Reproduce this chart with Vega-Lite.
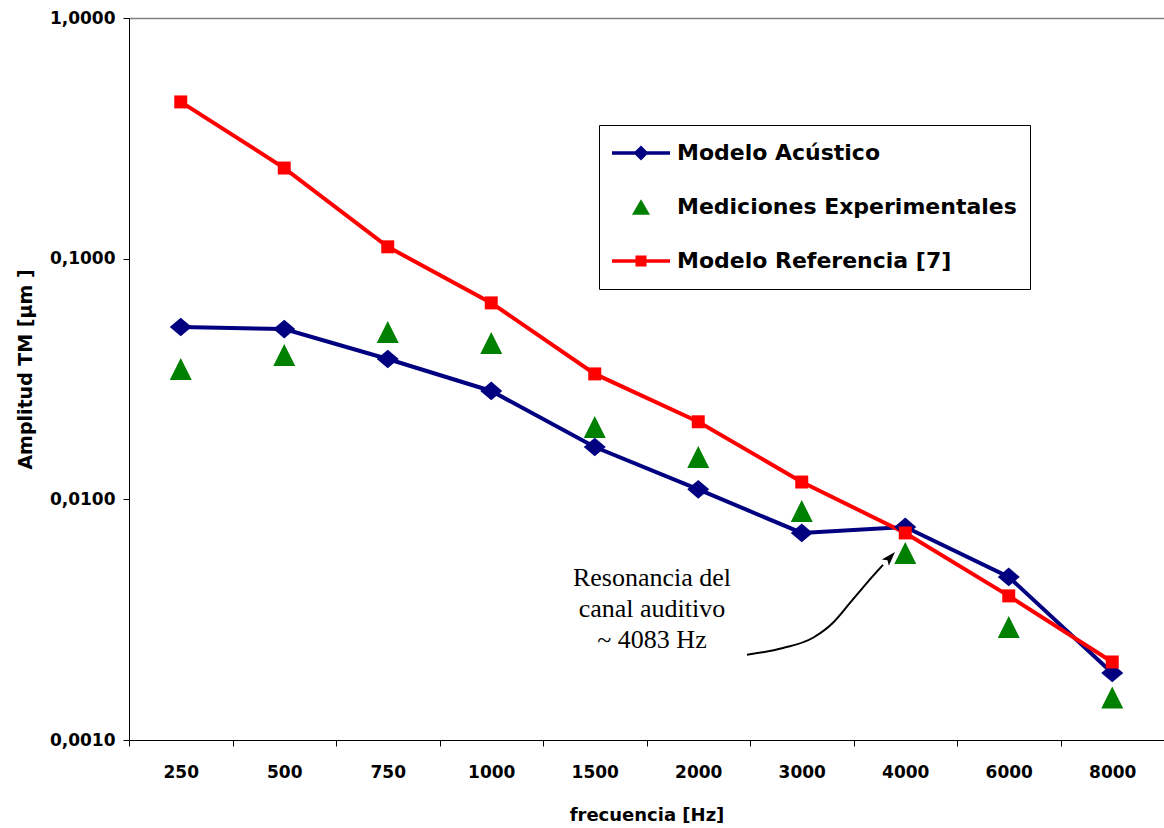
{
  "$schema": "https://vega.github.io/schema/vega-lite/v6.json",
  "width": 1035,
  "height": 722,
  "autosize": {"type": "none"},
  "padding": {"left": 129, "top": 18, "right": 0, "bottom": 88},
  "background": "white",
  "config": {"view": {"stroke": null}, "font": "DejaVu Sans"},
  "datasets": {
    "series": [
      {"frecuencia": "250", "serie": "Modelo Acústico", "amplitud": 0.052},
      {"frecuencia": "500", "serie": "Modelo Acústico", "amplitud": 0.051},
      {"frecuencia": "750", "serie": "Modelo Acústico", "amplitud": 0.0383},
      {"frecuencia": "1000", "serie": "Modelo Acústico", "amplitud": 0.0282},
      {"frecuencia": "1500", "serie": "Modelo Acústico", "amplitud": 0.0165},
      {"frecuencia": "2000", "serie": "Modelo Acústico", "amplitud": 0.011},
      {"frecuencia": "3000", "serie": "Modelo Acústico", "amplitud": 0.00725},
      {"frecuencia": "4000", "serie": "Modelo Acústico", "amplitud": 0.00768},
      {"frecuencia": "6000", "serie": "Modelo Acústico", "amplitud": 0.00476},
      {"frecuencia": "8000", "serie": "Modelo Acústico", "amplitud": 0.0019},
      {"frecuencia": "250", "serie": "Modelo Referencia [7]", "amplitud": 0.448},
      {"frecuencia": "500", "serie": "Modelo Referencia [7]", "amplitud": 0.238},
      {"frecuencia": "750", "serie": "Modelo Referencia [7]", "amplitud": 0.112},
      {"frecuencia": "1000", "serie": "Modelo Referencia [7]", "amplitud": 0.0655},
      {"frecuencia": "1500", "serie": "Modelo Referencia [7]", "amplitud": 0.0332},
      {"frecuencia": "2000", "serie": "Modelo Referencia [7]", "amplitud": 0.021},
      {"frecuencia": "3000", "serie": "Modelo Referencia [7]", "amplitud": 0.0118},
      {"frecuencia": "4000", "serie": "Modelo Referencia [7]", "amplitud": 0.00725},
      {"frecuencia": "6000", "serie": "Modelo Referencia [7]", "amplitud": 0.00397},
      {"frecuencia": "8000", "serie": "Modelo Referencia [7]", "amplitud": 0.00211},
      {"frecuencia": "250", "serie": "Mediciones Experimentales", "amplitud": 0.0348},
      {"frecuencia": "500", "serie": "Mediciones Experimentales", "amplitud": 0.0398},
      {"frecuencia": "750", "serie": "Mediciones Experimentales", "amplitud": 0.0496},
      {"frecuencia": "1000", "serie": "Mediciones Experimentales", "amplitud": 0.0446},
      {"frecuencia": "1500", "serie": "Mediciones Experimentales", "amplitud": 0.02},
      {"frecuencia": "2000", "serie": "Mediciones Experimentales", "amplitud": 0.015},
      {"frecuencia": "3000", "serie": "Mediciones Experimentales", "amplitud": 0.00895},
      {"frecuencia": "4000", "serie": "Mediciones Experimentales", "amplitud": 0.00599},
      {"frecuencia": "6000", "serie": "Mediciones Experimentales", "amplitud": 0.00295},
      {"frecuencia": "8000", "serie": "Mediciones Experimentales", "amplitud": 0.0015}
    ],
    "flecha": [
      {"xi": 5.471, "amplitud": 0.00226},
      {"xi": 5.819, "amplitud": 0.00241},
      {"xi": 6.109, "amplitud": 0.00266},
      {"xi": 6.302, "amplitud": 0.00307},
      {"xi": 6.466, "amplitud": 0.00371},
      {"xi": 6.63, "amplitud": 0.0045},
      {"xi": 6.785, "amplitud": 0.00534}
    ],
    "punta": [
      {"xi": 6.849, "amplitud": 0.00571}
    ],
    "nota": [
      {"xi": 4.553, "amplitud": 0.004714, "texto": "Resonancia del\ncanal auditivo\n~ 4083 Hz"}
    ]
  },
  "resolve": {"scale": {"x": "independent"}},
  "layer": [
    {
      "data": {"name": "series"},
      "transform": [{"filter": "datum.serie !== 'Mediciones Experimentales'"}],
      "mark": {"type": "line", "strokeWidth": 4},
      "encoding": {
        "x": {
          "field": "frecuencia", "type": "ordinal",
          "scale": {"type": "band", "paddingInner": 0, "paddingOuter": 0,
                    "domain": ["250", "500", "750", "1000", "1500", "2000", "3000", "4000", "6000", "8000"]},
          "axis": {
            "title": "frecuencia [Hz]", "tickBand": "extent", "labelAngle": 0,
            "tickSize": 6, "labelPadding": 18, "titlePadding": 26,
            "labelFont": "DejaVu Sans", "labelFontSize": 17, "labelFontWeight": "bold", "labelColor": "black",
            "titleFont": "DejaVu Sans", "titleFontSize": 18, "titleFontWeight": "bold", "titleColor": "black",
            "domainColor": "black", "tickColor": "black", "grid": false
          }
        },
        "y": {
          "field": "amplitud", "type": "quantitative",
          "scale": {"type": "log", "domain": [0.001, 1]},
          "axis": {
            "values": [0.001, 0.01, 0.1, 1],
            "labelExpr": "replace(format(datum.value, '.4f'), '.', ',')",
            "title": "Amplitud TM [µm ]",
            "labelFont": "DejaVu Sans", "labelFontSize": 17, "labelFontWeight": "bold", "labelColor": "black",
            "titleFont": "DejaVu Sans", "titleFontSize": 19, "titleFontWeight": "bold", "titleColor": "black",
            "tickSize": 6, "labelPadding": 8, "titlePadding": 14, "titleY": 351,
            "domainColor": "black", "tickColor": "black",
            "grid": true, "gridColor": "#808080", "gridWidth": 1.5,
            "gridOpacity": {"condition": {"test": "datum.value === 1", "value": 1}, "value": 0}
          }
        },
        "color": {
          "field": "serie", "type": "nominal",
          "scale": {"domain": ["Modelo Acústico", "Mediciones Experimentales", "Modelo Referencia [7]"],
                    "range": ["#000080", "#008000", "#FF0000"]},
          "legend": {
            "orient": "none", "legendX": 470, "legendY": 107, "title": null,
            "padding": 13, "strokeColor": "black", "fillColor": "white",
            "symbolSize": 3364, "clipHeight": 30, "rowPadding": 24, "labelOffset": 7,
            "labelFont": "DejaVu Sans", "labelFontWeight": "bold", "labelFontSize": 22, "labelColor": "black",
            "labelLimit": 600, "symbolStrokeWidth": 0, "symbolOpacity": 1, "symbolType": "circle",
            "encode": {
              "symbols": {
                "update": {
                  "shape": {"signal": "datum.value === 'Modelo Acústico' ? 'M-1,-0.06H1V0.06H-1Z M0,-0.26L0.26,0L0,0.26L-0.26,0Z' : (datum.value === 'Modelo Referencia [7]' ? 'M-1,-0.06H1V0.06H-1Z M-0.19,-0.19H0.19V0.19H-0.19Z' : 'M0,-0.27L0.31,0.27L-0.31,0.27Z')"},
                  "fill": {"signal": "datum.value === 'Modelo Acústico' ? '#000080' : (datum.value === 'Modelo Referencia [7]' ? '#FF0000' : '#008000')"},
                  "strokeWidth": {"value": 0}
                }
              }
            }
          }
        }
      }
    },
    {
      "data": {"name": "series"},
      "transform": [{"filter": "datum.serie === 'Modelo Acústico'"}],
      "mark": {"type": "point", "filled": true, "opacity": 1, "size": 484, "color": "#000080",
               "shape": "M-1,0L0,-0.85L1,0L0,0.85Z"},
      "encoding": {
        "x": {"field": "frecuencia", "type": "ordinal",
              "scale": {"type": "band", "paddingInner": 0, "paddingOuter": 0,
                        "domain": ["250", "500", "750", "1000", "1500", "2000", "3000", "4000", "6000", "8000"]},
              "axis": null},
        "y": {"field": "amplitud", "type": "quantitative", "scale": {"type": "log", "domain": [0.001, 1]}}
      }
    },
    {
      "data": {"name": "series"},
      "transform": [{"filter": "datum.serie === 'Modelo Referencia [7]'"}],
      "mark": {"type": "point", "filled": true, "opacity": 1, "size": 484, "color": "#FF0000",
               "shape": "M-0.59,-0.59H0.59V0.59H-0.59Z"},
      "encoding": {
        "x": {"field": "frecuencia", "type": "ordinal",
              "scale": {"type": "band", "paddingInner": 0, "paddingOuter": 0,
                        "domain": ["250", "500", "750", "1000", "1500", "2000", "3000", "4000", "6000", "8000"]},
              "axis": null},
        "y": {"field": "amplitud", "type": "quantitative", "scale": {"type": "log", "domain": [0.001, 1]}}
      }
    },
    {
      "data": {"name": "series"},
      "transform": [{"filter": "datum.serie === 'Mediciones Experimentales'"}],
      "mark": {"type": "point", "filled": true, "opacity": 1, "size": 484, "color": "#008000",
               "shape": "M0,-1L1,1L-1,1Z"},
      "encoding": {
        "x": {"field": "frecuencia", "type": "ordinal",
              "scale": {"type": "band", "paddingInner": 0, "paddingOuter": 0,
                        "domain": ["250", "500", "750", "1000", "1500", "2000", "3000", "4000", "6000", "8000"]},
              "axis": null},
        "y": {"field": "amplitud", "type": "quantitative", "scale": {"type": "log", "domain": [0.001, 1]}}
      }
    },
    {
      "data": {"name": "flecha"},
      "mark": {"type": "line", "color": "black", "strokeWidth": 2, "interpolate": "monotone"},
      "encoding": {
        "x": {"field": "xi", "type": "quantitative", "scale": {"domain": [-0.5, 9.5], "nice": false, "zero": false}, "axis": null},
        "y": {"field": "amplitud", "type": "quantitative", "scale": {"type": "log", "domain": [0.001, 1]}}
      }
    },
    {
      "data": {"name": "punta"},
      "mark": {"type": "point", "filled": true, "color": "black", "opacity": 1, "size": 256, "angle": 42,
               "shape": "M0,-1L0.6,0.8L0,0.4L-0.6,0.8Z"},
      "encoding": {
        "x": {"field": "xi", "type": "quantitative", "scale": {"domain": [-0.5, 9.5], "nice": false, "zero": false}, "axis": null},
        "y": {"field": "amplitud", "type": "quantitative", "scale": {"type": "log", "domain": [0.001, 1]}}
      }
    },
    {
      "data": {"name": "nota"},
      "mark": {"type": "text", "font": "Liberation Serif", "fontSize": 26, "lineHeight": 31,
               "lineBreak": "\n", "align": "center", "baseline": "middle", "color": "black"},
      "encoding": {
        "x": {"field": "xi", "type": "quantitative", "scale": {"domain": [-0.5, 9.5], "nice": false, "zero": false}, "axis": null},
        "y": {"field": "amplitud", "type": "quantitative", "scale": {"type": "log", "domain": [0.001, 1]}},
        "text": {"field": "texto", "type": "nominal"}
      }
    }
  ]
}
